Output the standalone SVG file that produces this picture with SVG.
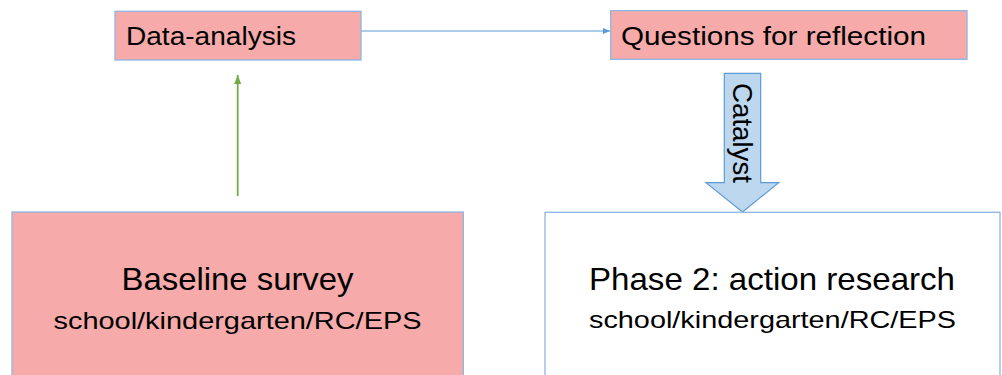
<svg xmlns="http://www.w3.org/2000/svg" width="1002" height="375" viewBox="0 0 1002 375">
<style>
.box{stroke:#8fb4e3;stroke-width:1.3}
.pink{fill:#f6abaa}
.white{fill:#ffffff}
text{font-family:"Liberation Sans",Arial,sans-serif;fill:#000}
.t1{font-size:26px}
.tc{font-size:28px}
.t2{font-size:32px}
.t3{font-size:24px}
</style>
<defs>
<marker id="ab" markerWidth="8" markerHeight="8" refX="7" refY="4" orient="auto" markerUnits="userSpaceOnUse">
<path d="M0,1 L7,4 L0,7 Z" fill="#5b9bd5"/>
</marker>
<marker id="ag" markerWidth="10" markerHeight="10" refX="9" refY="5" orient="auto" markerUnits="userSpaceOnUse">
<path d="M0,1.5 L9,5 L0,8.5 Z" fill="#70ad47"/>
</marker>
</defs>
<rect width="1002" height="375" fill="#fff"/>
<g id="connectors">
<line x1="361" y1="31" x2="610" y2="31" stroke="#5b9bd5" stroke-width="1.2" marker-end="url(#ab)"/>
<line x1="237.7" y1="196" x2="237.7" y2="75" stroke="#70ad47" stroke-width="1.8" marker-end="url(#ag)"/>
</g>
<g id="data-analysis">
<rect class="box pink" x="115" y="11.3" width="246" height="48.7"/>
<text class="t1" x="126" y="45" textLength="170" lengthAdjust="spacingAndGlyphs">Data-analysis</text>
</g>
<g id="questions">
<rect class="box pink" x="610.7" y="10.7" width="356.3" height="48.6"/>
<text class="t1" x="621" y="45" textLength="305" lengthAdjust="spacingAndGlyphs">Questions for reflection</text>
</g>
<g id="catalyst">
<path d="M724.3,73.3 H760.7 V182.7 H778.7 L742.5,212 L706,182.7 H724.3 Z" fill="#bdd7ee" stroke="#5b9bd5" stroke-width="1.2"/>
<text class="tc" transform="translate(733,133) rotate(90)" text-anchor="middle" textLength="100" lengthAdjust="spacingAndGlyphs">Catalyst</text>
</g>
<g id="baseline">
<rect class="box pink" x="12" y="212" width="451.3" height="175"/>
<text class="t2" x="237.5" y="290" text-anchor="middle" textLength="232" lengthAdjust="spacingAndGlyphs">Baseline survey</text>
<text class="t3" x="237.5" y="329" text-anchor="middle" textLength="368" lengthAdjust="spacingAndGlyphs">school/kindergarten/RC/EPS</text>
</g>
<g id="phase2">
<rect class="box white" x="545" y="212.3" width="455" height="175"/>
<text class="t2" x="772" y="290" text-anchor="middle" textLength="366" lengthAdjust="spacingAndGlyphs">Phase 2: action research</text>
<text class="t3" x="772.5" y="328" text-anchor="middle" textLength="367" lengthAdjust="spacingAndGlyphs">school/kindergarten/RC/EPS</text>
</g>
</svg>
